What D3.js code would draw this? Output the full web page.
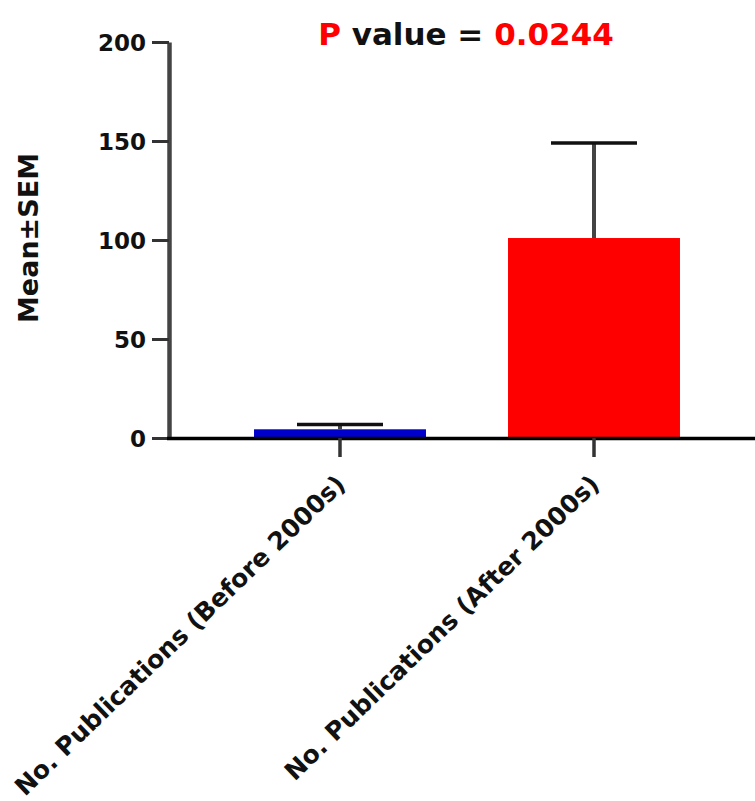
<!DOCTYPE html>
<html>
<head>
<meta charset="utf-8">
<script src="https://cdn.jsdelivr.net/npm/d3@7"></script>
<style>
  html, body { margin: 0; padding: 0; background: #fff; }
  svg { display: block; }
  text { font-family: "DejaVu Sans", "Liberation Sans", sans-serif; font-weight: bold; }
</style>
</head>
<body>
<svg id="chart" width="755" height="801"></svg>
<script>
// ---- data ----
const categories = ["No. Publications (Before 2000s)", "No. Publications (After 2000s)"];
const means = [4.4, 101];
const sems = [2.4, 48];
const barColors = ["#0000cc", "#ff0000"];
const yTicks = [0, 50, 100, 150, 200];
const titleParts = [
  { text: "P", color: "#ff0000" },
  { text: " value = ", color: "#111111" },
  { text: "0.0244", color: "#ff0000" }
];
const yLabel = "Mean±SEM";

// ---- layout ----
const W = 755, H = 801;
const svg = d3.select("#chart");

const y = d3.scaleLinear().domain([0, 200]).range([438, 42]);
const x = d3.scaleBand().domain(categories).range([213, 721])
  .paddingInner(0.323).paddingOuter(0.1615);

// bars
svg.append("g").selectAll("rect").data(categories).join("rect")
  .attr("x", d => x(d))
  .attr("width", x.bandwidth())
  .attr("y", (d, i) => y(means[i]))
  .attr("height", (d, i) => y(0) - y(means[i]))
  .attr("fill", (d, i) => barColors[i]);

// error bars (upper only)
const eg = svg.append("g");
categories.forEach((c, i) => {
  const cx = x(c) + x.bandwidth() / 2;
  const capW = x.bandwidth() / 2;
  eg.append("line")
    .attr("x1", cx).attr("x2", cx)
    .attr("y1", y(means[i])).attr("y2", y(means[i] + sems[i]))
    .attr("stroke", "#444").attr("stroke-width", 4);
  eg.append("line")
    .attr("x1", cx - capW / 2).attr("x2", cx + capW / 2)
    .attr("y1", y(means[i] + sems[i])).attr("y2", y(means[i] + sems[i]))
    .attr("stroke", "#111").attr("stroke-width", 3.5);
});

// y axis
const yAxis = svg.append("g")
  .attr("transform", "translate(169,0)")
  .call(d3.axisLeft(y).tickValues(yTicks).tickSize(17).tickSizeOuter(0).tickPadding(6));
yAxis.select(".domain").attr("stroke", "#444").attr("stroke-width", 4.5);
yAxis.selectAll(".tick line").attr("stroke", "#333").attr("stroke-width", 3);
yAxis.selectAll(".tick text")
  .attr("font-size", 23).attr("fill", "#111")
  .style("font-family", '"DejaVu Sans", sans-serif').style("font-weight", "bold")
  .attr("dy", "0.36em");

// x axis baseline
svg.append("line")
  .attr("x1", 167).attr("x2", W)
  .attr("y1", 438.5).attr("y2", 438.5)
  .attr("stroke", "#000").attr("stroke-width", 3.5);

// x axis ticks + labels
const xAxis = svg.append("g")
  .attr("transform", "translate(0,438)")
  .call(d3.axisBottom(x).tickSize(19).tickSizeOuter(0));
xAxis.select(".domain").remove();
xAxis.selectAll(".tick line").attr("stroke", "#333").attr("stroke-width", 3.5);
xAxis.selectAll(".tick text")
  .attr("font-size", 25).attr("fill", "#111")
  .style("font-family", '"DejaVu Sans", sans-serif').style("font-weight", "bold")
  .attr("text-anchor", "end")
  .attr("y", 0).attr("dy", 0)
  .attr("transform", "translate(7,48) rotate(-44)");

// y axis title
svg.append("text")
  .attr("transform", "translate(38,238) rotate(-90)")
  .attr("text-anchor", "middle")
  .attr("font-size", 27)
  .attr("fill", "#111")
  .text(yLabel);

// title
const t = svg.append("text")
  .attr("x", 466).attr("y", 45)
  .attr("text-anchor", "middle")
  .attr("font-size", 31);
t.selectAll("tspan").data(titleParts).join("tspan")
  .attr("fill", d => d.color)
  .style("white-space", "pre")
  .text(d => d.text);
</script>
</body>
</html>
